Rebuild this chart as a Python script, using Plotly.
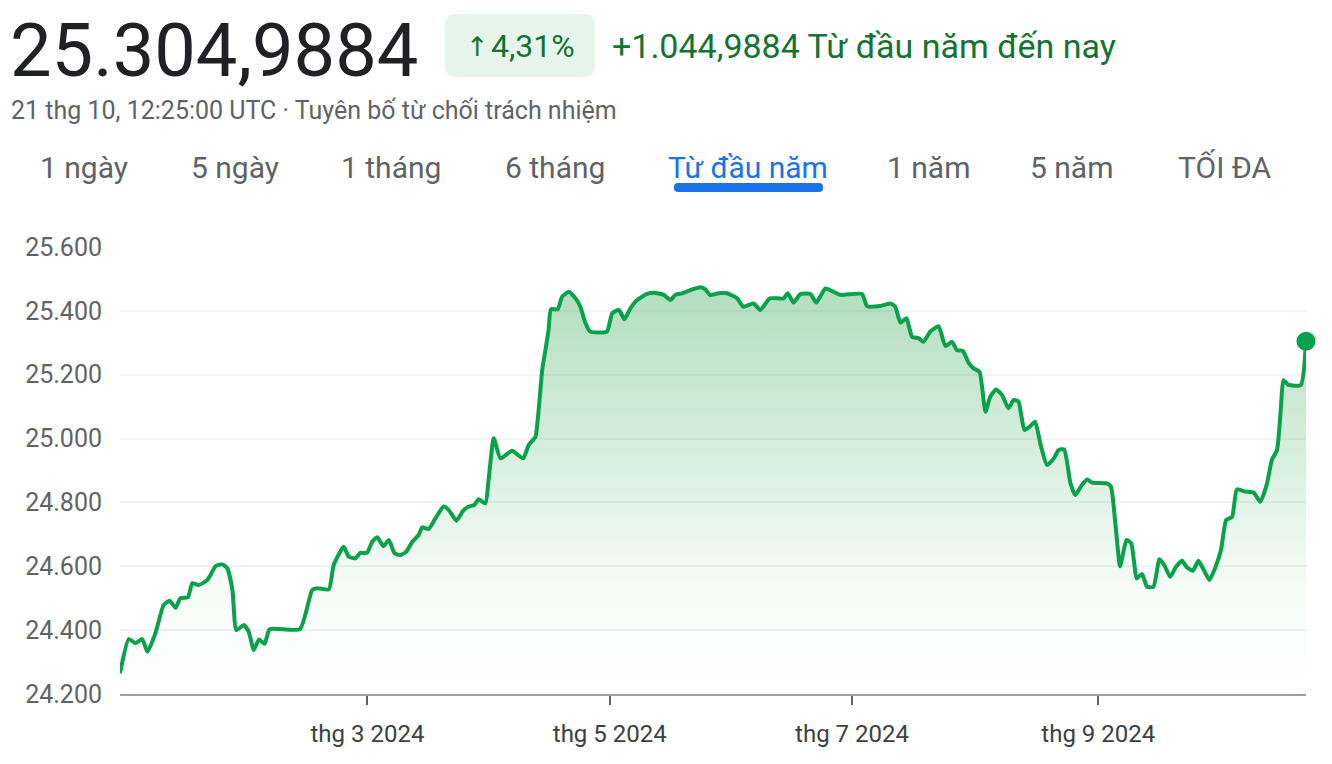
import plotly.graph_objects as go
import pandas as pd

# USD/VND, year to date (day offsets from 1 Jan 2024, rate)
day_offsets = [
    -2.3, -0.1, 1.6, 3.3, 4.6, 6.6, 8.7, 10.2, 11.7, 12.9, 14.8, 15.9, 17.5, 19.7, 20.5,
    21.8, 23.4, 24.7, 26.0, 27.0, 28.9, 30.1, 31.4, 32.7, 34.1, 35.4, 43.0, 46.1, 47.4,
    50.3, 51.5, 54.0, 55.3, 57.0, 58.2, 59.9, 61.2, 62.5, 64.0, 65.4, 66.8, 68.3, 69.8,
    71.3, 72.9, 73.8, 75.4, 77.1, 79.2, 80.5, 82.4, 84.1, 85.5, 86.9, 88.0, 89.7, 90.5,
    91.8, 93.5, 96.4, 99.2, 100.6, 102.3, 103.1, 104.0, 104.8, 105.6, 106.2, 107.9, 109.0,
    110.7, 112.4, 113.6, 114.9, 116.1, 120.3, 121.6, 123.3, 124.7, 126.2, 127.9, 130.4,
    132.1, 134.6, 136.3, 137.5, 139.2, 141.3, 143.8, 145.1, 146.2, 148.4, 150.5, 153.1,
    154.6, 157.2, 158.9, 161.3, 164.8, 165.8, 167.3, 169.0, 171.5, 173.0, 175.3, 177.0,
    179.1, 184.5, 185.8, 189.1, 191.7, 192.9, 194.2, 195.7, 197.1, 198.8, 200.0, 201.7,
    203.8, 205.5, 207.2, 208.4, 209.9, 211.4, 212.6, 214.1, 215.6, 216.8, 218.3, 219.8,
    221.4, 222.7, 223.9, 225.4, 226.7, 228.1, 229.4, 231.1, 232.8, 234.0, 235.4, 237.0,
    238.2, 239.9, 241.2, 242.4, 246.2, 247.2, 248.3, 249.5, 251.1, 252.3, 253.7, 255.0,
    256.3, 257.9, 259.4, 260.6, 262.1, 263.6, 265.1, 266.3, 267.8, 269.2, 270.5, 272.0,
    273.4, 274.9, 276.2, 277.7, 278.9, 281.0, 283.1, 284.8, 286.5, 287.7, 289.0, 290.0,
    290.6, 291.9, 295.0, 296.3,
]
rates = [
    24265, 24372, 24359, 24372, 24332, 24390, 24479, 24492, 24470, 24500, 24503, 24547, 24541, 24557, 24573,
    24601, 24606, 24594, 24526, 24400, 24416, 24395, 24338, 24371, 24357, 24403, 24403, 24526, 24531,
    24528, 24604, 24661, 24630, 24625, 24642, 24642, 24677, 24691, 24663, 24682, 24641, 24635, 24646,
    24677, 24698, 24722, 24717, 24750, 24787, 24776, 24743, 24774, 24787, 24792, 24810, 24797, 24870,
    25001, 24938, 24962, 24938, 24980, 25006, 25089, 25215, 25277, 25340, 25405, 25405, 25444,
    25460, 25439, 25413, 25361, 25335, 25335, 25392, 25403, 25374, 25408, 25434, 25453,
    25457, 25450, 25434, 25450, 25455, 25465, 25474, 25467, 25450, 25455, 25455, 25439,
    25413, 25423, 25403, 25439, 25439, 25455, 25426, 25453, 25453, 25426, 25470, 25462,
    25450, 25453, 25415, 25415, 25423, 25413, 25363, 25377, 25319, 25314, 25303, 25335,
    25352, 25290, 25303, 25277, 25275, 25236, 25220, 25209, 25084, 25131, 25154, 25136,
    25095, 25121, 25116, 25027, 25037, 25053, 24985, 24917, 24938, 24964, 24966, 24860,
    24823, 24855, 24872, 24862, 24860, 24849, 24735, 24600, 24682, 24672, 24562, 24576,
    24536, 24536, 24622, 24604, 24567, 24599, 24617, 24597, 24586, 24617, 24590, 24557,
    24594, 24651, 24745, 24755, 24841, 24834, 24831, 24802, 24860, 24933, 24964, 25100,
    25183, 25168, 25168, 25305,
]

tick_dates = ["2024-03-01", "2024-05-01", "2024-07-01", "2024-09-01"]
tick_labels = ["thg 3 2024", "thg 5 2024", "thg 7 2024", "thg 9 2024"]
y_ticks = [24200, 24400, 24600, 24800, 25000, 25200, 25400, 25600]

price_text = "25.304,9884"
change_pct = "4,31%"
change_text = "+1.044,9884 Từ đầu năm đến nay"
sub_text = "21 thg 10, 12:25:00 UTC · Tuyên bố từ chối trách nhiệm"
tabs = ["1 ngày", "5 ngày", "1 tháng", "6 tháng", "Từ đầu năm", "1 năm", "5 năm", "TỐI ĐA"]
tab_x = [84, 235, 391, 555, 748, 929, 1072, 1225]
active_tab = "Từ đầu năm"

dates = pd.Timestamp("2024-01-01") + pd.to_timedelta(day_offsets, unit="D")

GREEN = "#0aa14b"
FONT = "Roboto, Arial, sans-serif"

# page has an 8px body margin, so the figure is drawn 8px smaller and all
# page-pixel positions below are shifted by it
OFF = 8
FIG_W, FIG_H = 1332 - OFF, 764 - OFF
L, R, T, B = 120 - OFF, 1306 - OFF, 247 - OFF, 694 - OFF
W, H = R - L, B - T


def px(x):
    return (x - OFF - L) / W


def py(y):
    return (B - (y - OFF)) / H


def rounded_rect(x0, y0, x1, y1, r):
    return (f"M {px(x0 + r)},{py(y0)} L {px(x1 - r)},{py(y0)} Q {px(x1)},{py(y0)} {px(x1)},{py(y0 + r)} "
            f"L {px(x1)},{py(y1 - r)} Q {px(x1)},{py(y1)} {px(x1 - r)},{py(y1)} "
            f"L {px(x0 + r)},{py(y1)} Q {px(x0)},{py(y1)} {px(x0)},{py(y1 - r)} "
            f"L {px(x0)},{py(y0 + r)} Q {px(x0)},{py(y0)} {px(x0 + r)},{py(y0)} Z")


fig = go.Figure()

fig.add_trace(go.Scatter(
    x=dates, y=rates, mode="lines",
    line=dict(color=GREEN, width=4, shape="spline", smoothing=0.5),
    fill="tozeroy",
    fillgradient=dict(type="vertical",
                      colorscale=[[0, "rgba(52,168,83,0)"], [0.25, "rgba(52,168,83,0.04)"],
                                  [1, "rgba(52,168,83,0.38)"]],
                      start=24200, stop=25480),
    hoverinfo="skip",
))

fig.add_trace(go.Scatter(
    x=[dates[-1]], y=[rates[-1]], mode="markers",
    marker=dict(color=GREEN, size=19),
    cliponaxis=False, hoverinfo="skip",
))

annotations = [
    dict(x=px(8), y=py(50), text=price_text, xanchor="left", yanchor="middle",
         font=dict(family=FONT, size=74, color="#202124")),
    dict(x=px(477), y=py(46), text="↑", xanchor="center", yanchor="middle",
         font=dict(family="DejaVu Sans, sans-serif", size=27, color="#137333")),
    dict(x=px(577), y=py(46), text=change_pct, xanchor="right", yanchor="middle",
         font=dict(family=FONT, size=32, color="#137333")),
    dict(x=px(610), y=py(46), text=change_text, xanchor="left", yanchor="middle",
         font=dict(family=FONT, size=34, color="#137333")),
    dict(x=px(9), y=py(110), text=sub_text, xanchor="left", yanchor="middle",
         font=dict(family=FONT, size=25, color="#5f6368")),
]
for label, cx in zip(tabs, tab_x):
    color = "#1a73e8" if label == active_tab else "#5f6368"
    annotations.append(dict(x=px(cx), y=py(167), text=label, xanchor="center", yanchor="middle",
                            font=dict(family=FONT, size=30, color=color)))
for a in annotations:
    a.update(xref="paper", yref="paper", showarrow=False)

shapes = [
    dict(type="path", xref="paper", yref="paper", path=rounded_rect(445, 14, 595, 77, 12),
         fillcolor="#e6f4ea", line=dict(width=0), layer="below"),
    dict(type="path", xref="paper", yref="paper", path=rounded_rect(674, 183, 823, 192, 4),
         fillcolor="#1a73e8", line=dict(width=0)),
]

fig.update_layout(
    width=FIG_W, height=FIG_H,
    margin=dict(l=L, r=FIG_W - R, t=T, b=FIG_H - B),
    paper_bgcolor="white", plot_bgcolor="white",
    separators=",.",
    showlegend=False,
    annotations=annotations,
    shapes=shapes,
    xaxis=dict(
        type="date",
        range=[dates[0], dates[-1]],
        tickvals=tick_dates, ticktext=tick_labels,
        showgrid=False, zeroline=False,
        showline=True, linecolor="#9aa0a6", linewidth=2,
        ticks="outside", ticklen=9, tickwidth=2, tickcolor="#5f6368",
        ticklabelstandoff=8,
        tickfont=dict(family=FONT, size=24, color="#3c4043"),
    ),
    yaxis=dict(
        range=[24200, 25600],
        tickvals=y_ticks, tickformat=",d",
        showgrid=True, gridcolor="#f1f3f4", gridwidth=1.5,
        zeroline=False, showline=False,
        ticklabelstandoff=17,
        tickfont=dict(family=FONT, size=25, color="#5f6368"),
    ),
)

fig.write_html("out.html")
